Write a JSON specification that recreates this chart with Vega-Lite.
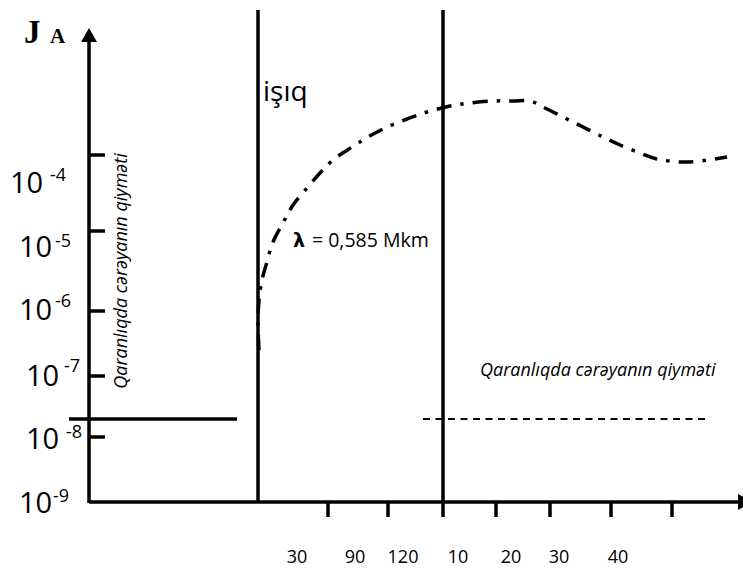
{
  "$schema": "https://vega.github.io/schema/vega-lite/v6.json",
  "width": 743,
  "height": 569,
  "padding": 0,
  "autosize": {"type": "fit", "contains": "padding"},
  "view": {"stroke": null},
  "background": "white",
  "encoding": {
    "x": {"field": "x", "type": "quantitative", "scale": {"domain": [0, 743], "nice": false, "zero": false}, "axis": null},
    "y": {"field": "y", "type": "quantitative", "scale": {"domain": [0, 569], "nice": false, "zero": false, "reverse": true}, "axis": null}
  },
  "layer": [
    {
      "data": {"values": [
        {"part": "y-axis", "x": 89, "y": 40, "x2": 89, "y2": 503},
        {"part": "x-axis", "x": 89, "y": 502, "x2": 740, "y2": 502},
        {"part": "light-on", "x": 258, "y": 10, "x2": 258, "y2": 502},
        {"part": "light-off", "x": 443, "y": 10, "x2": 443, "y2": 517},
        {"part": "dark-current", "x": 69, "y": 419, "x2": 237, "y2": 419},
        {"part": "ytick", "x": 89, "y": 155, "x2": 105, "y2": 155},
        {"part": "ytick", "x": 89, "y": 231, "x2": 105, "y2": 231},
        {"part": "ytick", "x": 89, "y": 311, "x2": 105, "y2": 311},
        {"part": "ytick", "x": 89, "y": 376, "x2": 105, "y2": 376},
        {"part": "ytick", "x": 89, "y": 437, "x2": 105, "y2": 437},
        {"part": "xtick", "x": 328, "y": 502, "x2": 328, "y2": 517},
        {"part": "xtick", "x": 388, "y": 502, "x2": 388, "y2": 517},
        {"part": "xtick", "x": 496, "y": 502, "x2": 496, "y2": 517},
        {"part": "xtick", "x": 550, "y": 502, "x2": 550, "y2": 517},
        {"part": "xtick", "x": 611, "y": 502, "x2": 611, "y2": 517},
        {"part": "xtick", "x": 672, "y": 502, "x2": 672, "y2": 517}
      ]},
      "mark": {"type": "rule", "color": "black", "strokeWidth": 3.5},
      "encoding": {
        "x2": {"field": "x2"},
        "y2": {"field": "y2"}
      }
    },
    {
      "data": {"values": [{"x": 423, "y": 419, "x2": 705, "y2": 419}]},
      "mark": {"type": "rule", "color": "black", "strokeWidth": 1.8, "strokeDash": [7, 5.5]},
      "encoding": {"x2": {"field": "x2"}, "y2": {"field": "y2"}}
    },
    {
      "data": {"values": [
        {"i": 0, "x": 259, "y": 350},
        {"i": 1, "x": 258, "y": 323},
        {"i": 2, "x": 259, "y": 300},
        {"i": 3, "x": 262, "y": 280},
        {"i": 4, "x": 267, "y": 262},
        {"i": 5, "x": 273, "y": 242},
        {"i": 6, "x": 283, "y": 223},
        {"i": 7, "x": 293, "y": 205},
        {"i": 8, "x": 307, "y": 188},
        {"i": 9, "x": 320, "y": 173},
        {"i": 10, "x": 333, "y": 160},
        {"i": 11, "x": 352, "y": 147},
        {"i": 12, "x": 368, "y": 137},
        {"i": 13, "x": 387, "y": 127},
        {"i": 14, "x": 407, "y": 119},
        {"i": 15, "x": 427, "y": 112},
        {"i": 16, "x": 450, "y": 106},
        {"i": 17, "x": 470, "y": 103},
        {"i": 18, "x": 493, "y": 101},
        {"i": 19, "x": 513, "y": 101},
        {"i": 20, "x": 530, "y": 101},
        {"i": 21, "x": 543, "y": 107},
        {"i": 22, "x": 563, "y": 117},
        {"i": 23, "x": 583, "y": 127},
        {"i": 24, "x": 603, "y": 137},
        {"i": 25, "x": 620, "y": 145},
        {"i": 26, "x": 640, "y": 153},
        {"i": 27, "x": 657, "y": 159},
        {"i": 28, "x": 680, "y": 162},
        {"i": 29, "x": 700, "y": 161},
        {"i": 30, "x": 727, "y": 157}
      ]},
      "mark": {"type": "line", "color": "black", "strokeWidth": 3.5, "strokeDash": [15, 9, 3.5, 9], "interpolate": "cardinal"},
      "encoding": {"order": {"field": "i", "type": "quantitative"}}
    },
    {
      "data": {"values": [
        {"dir": "up", "x": 89, "y": 35},
        {"dir": "right", "x": 745, "y": 502}
      ]},
      "mark": {"type": "point", "filled": true, "color": "black", "opacity": 1, "size": 256, "clip": true},
      "encoding": {
        "shape": {"field": "dir", "type": "nominal", "scale": {"domain": ["up", "right"], "range": ["triangle-up", "triangle-right"]}, "legend": null}
      }
    },
    {
      "data": {"values": [
        {"t": "10", "x": 10, "y": 184},
        {"t": "10", "x": 19, "y": 248},
        {"t": "10", "x": 19, "y": 311},
        {"t": "10", "x": 26, "y": 377},
        {"t": "10", "x": 26, "y": 440},
        {"t": "10", "x": 19, "y": 504}
      ]},
      "mark": {"type": "text", "align": "left", "baseline": "middle", "font": "Open Sans", "fontSize": 29, "color": "black"},
      "encoding": {"text": {"field": "t"}}
    },
    {
      "data": {"values": [
        {"t": "-4", "x": 50, "y": 176},
        {"t": "-5", "x": 55, "y": 242},
        {"t": "-6", "x": 55, "y": 302},
        {"t": "-7", "x": 64, "y": 367},
        {"t": "-8", "x": 66, "y": 433},
        {"t": "-9", "x": 53, "y": 497}
      ]},
      "mark": {"type": "text", "align": "left", "baseline": "middle", "font": "Open Sans", "fontSize": 18, "color": "black"},
      "encoding": {"text": {"field": "t"}}
    },
    {
      "data": {"values": [
        {"t": "30", "x": 297, "y": 563},
        {"t": "90", "x": 355, "y": 563},
        {"t": "120", "x": 403, "y": 563},
        {"t": "10", "x": 458, "y": 563},
        {"t": "20", "x": 511, "y": 563},
        {"t": "30", "x": 559, "y": 563},
        {"t": "40", "x": 618, "y": 563}
      ]},
      "mark": {"type": "text", "align": "center", "baseline": "alphabetic", "font": "Open Sans", "fontSize": 18, "color": "black"},
      "encoding": {"text": {"field": "t"}}
    },
    {
      "data": {"values": [{"t": "J", "x": 24, "y": 43}]},
      "mark": {"type": "text", "align": "left", "baseline": "alphabetic", "font": "Liberation Serif", "fontWeight": "bold", "fontSize": 33, "color": "black"},
      "encoding": {"text": {"field": "t"}}
    },
    {
      "data": {"values": [{"t": "A", "x": 50, "y": 43}]},
      "mark": {"type": "text", "align": "left", "baseline": "alphabetic", "font": "Liberation Serif", "fontWeight": "bold", "fontSize": 21, "color": "black"},
      "encoding": {"text": {"field": "t"}}
    },
    {
      "data": {"values": [{"t": "işıq", "x": 263, "y": 101}]},
      "mark": {"type": "text", "align": "left", "baseline": "alphabetic", "font": "Open Sans", "fontSize": 28, "color": "black"},
      "encoding": {"text": {"field": "t"}}
    },
    {
      "data": {"values": [{"t": "λ", "x": 293, "y": 247}]},
      "mark": {"type": "text", "align": "left", "baseline": "alphabetic", "font": "DejaVu Sans", "fontWeight": "bold", "fontSize": 19, "color": "black"},
      "encoding": {"text": {"field": "t"}}
    },
    {
      "data": {"values": [{"t": "= 0,585 Mkm", "x": 312, "y": 247}]},
      "mark": {"type": "text", "align": "left", "baseline": "alphabetic", "font": "Open Sans", "fontSize": 19.5, "color": "black"},
      "encoding": {"text": {"field": "t"}}
    },
    {
      "data": {"values": [{"t": "Qaranlıqda cərəyanın qiyməti", "x": 480, "y": 371}]},
      "mark": {"type": "text", "align": "left", "baseline": "middle", "font": "Open Sans", "fontStyle": "italic", "fontSize": 18, "color": "black"},
      "encoding": {"text": {"field": "t"}}
    },
    {
      "data": {"values": [{"t": "Qaranlıqda cərəyanın qiyməti", "x": 122, "y": 271}]},
      "mark": {"type": "text", "align": "center", "baseline": "middle", "angle": 270, "font": "Open Sans", "fontStyle": "italic", "fontSize": 18, "color": "black"},
      "encoding": {"text": {"field": "t"}}
    }
  ]
}
